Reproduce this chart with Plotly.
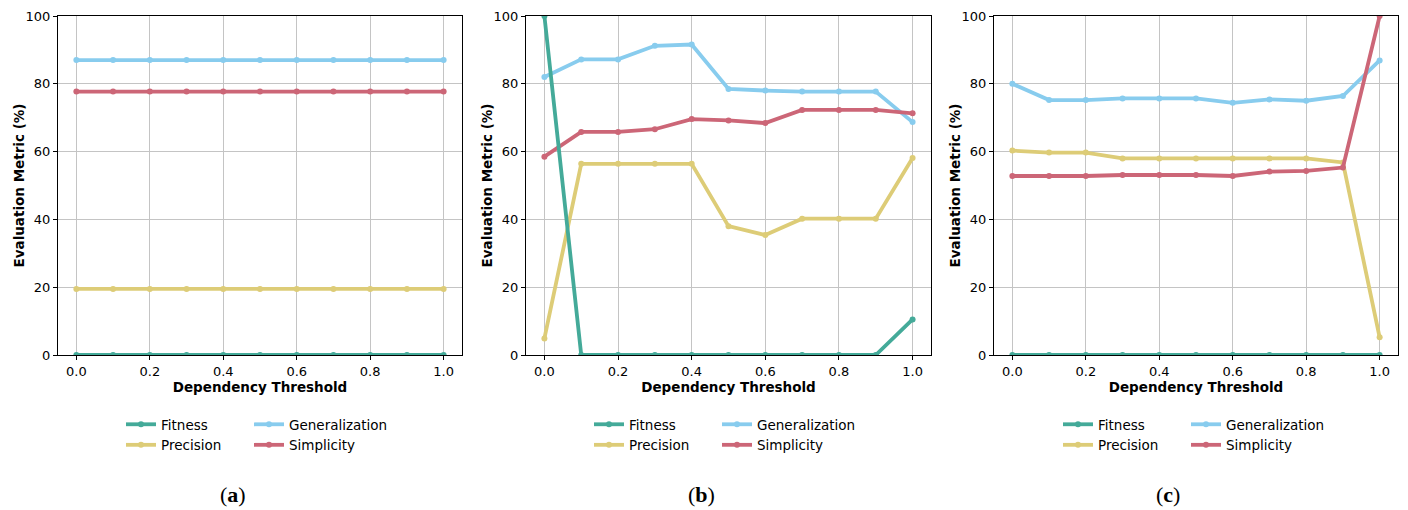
import plotly.graph_objects as go

thresholds = [0.0, 0.1, 0.2, 0.3, 0.4, 0.5, 0.6, 0.7, 0.8, 0.9, 1.0]
metrics = ["Fitness", "Generalization", "Precision", "Simplicity"]
colors = {"Fitness": "#44AA99", "Generalization": "#88CCEE",
          "Precision": "#DDCC77", "Simplicity": "#CC6677"}

# Panel (a)
a_fitness = [0, 0, 0, 0, 0, 0, 0, 0, 0, 0, 0]
a_generalization = [87.0] * 11
a_precision = [19.5] * 11
a_simplicity = [77.7] * 11

# Panel (b)
b_fitness = [100, 0, 0, 0, 0, 0, 0, 0, 0, 0, 10.5]
b_generalization = [82.0, 87.2, 87.2, 91.2, 91.6, 78.5, 78.0, 77.7, 77.7, 77.7, 68.7]
b_precision = [4.9, 56.4, 56.4, 56.4, 56.4, 38.0, 35.4, 40.2, 40.2, 40.2, 58.1]
b_simplicity = [58.5, 65.8, 65.8, 66.6, 69.6, 69.2, 68.4, 72.3, 72.3, 72.3, 71.3]

# Panel (c)
c_fitness = [0, 0, 0, 0, 0, 0, 0, 0, 0, 0, 0]
c_generalization = [80.0, 75.2, 75.2, 75.7, 75.7, 75.7, 74.4, 75.4, 75.0, 76.4, 86.9]
c_precision = [60.3, 59.7, 59.7, 58.0, 58.0, 58.0, 58.0, 58.0, 58.0, 56.8, 5.2]
c_simplicity = [52.8, 52.8, 52.8, 53.1, 53.1, 53.1, 52.8, 54.1, 54.3, 55.3, 100.0]

captions = ["a", "b", "c"]
x_title = "Dependency Threshold"
y_title = "Evaluation Metric (%)"
x_ticks = [0.0, 0.2, 0.4, 0.6, 0.8, 1.0]
y_ticks = [0, 20, 40, 60, 80, 100]

panels = [
    {"Fitness": a_fitness, "Generalization": a_generalization, "Precision": a_precision, "Simplicity": a_simplicity},
    {"Fitness": b_fitness, "Generalization": b_generalization, "Precision": b_precision, "Simplicity": b_simplicity},
    {"Fitness": c_fitness, "Generalization": c_generalization, "Precision": c_precision, "Simplicity": c_simplicity},
]

W, H = 1408, 510
x_domains = [(58, 462), (526, 931), (994, 1398)]
y_top, y_bot = 16, 355
caption_x = [233, 701, 1168]
legend_col1_x = [125, 593, 1062]
legend_col2_x = [253, 721, 1190]

FONT = "DejaVu Sans"
fig = go.Figure()

draw_order = ["Generalization", "Precision", "Simplicity", "Fitness"]
rank = {"Fitness": 1, "Generalization": 2, "Precision": 3, "Simplicity": 4}

for i, data in enumerate(panels):
    sfx = "" if i == 0 else str(i + 1)
    for m in draw_order:
        leg_idx = 2 * i + (1 if m in ("Fitness", "Precision") else 2)
        leg = "legend" if leg_idx == 1 else f"legend{leg_idx}"
        fig.add_trace(go.Scatter(
            x=thresholds, y=data[m], name=m, mode="lines+markers",
            line=dict(color=colors[m], width=3.8),
            marker=dict(color=colors[m], size=6),
            xaxis="x" + sfx, yaxis="y" + sfx,
            legend=leg, legendrank=rank[m], showlegend=True,
        ))

layout = dict(
    width=W, height=H,
    margin=dict(l=0, r=0, t=0, b=0),
    paper_bgcolor="white", plot_bgcolor="white",
    font=dict(family=FONT, color="black", size=12),
    annotations=[],
)

for i in range(3):
    sfx = "" if i == 0 else str(i + 1)
    x0, x1 = x_domains[i]
    layout["xaxis" + sfx] = dict(
        domain=[x0 / W, x1 / W], anchor="y" + sfx, automargin=False,
        range=[-0.05, 1.05], tickvals=x_ticks, tickformat=".1f",
        showgrid=True, gridcolor="#c4c4c4", gridwidth=1,
        showline=True, linecolor="black", linewidth=1, mirror=True,
        ticks="outside", ticklen=4, tickcolor="black",
        tickfont=dict(family=FONT, size=13),
        title=dict(text=f"<b>{x_title}</b>", font=dict(family=FONT, size=13.5), standoff=0),
        zeroline=False,
    )
    layout["yaxis" + sfx] = dict(
        domain=[1 - y_bot / H, 1 - y_top / H], anchor="x" + sfx, automargin=False,
        range=[0, 100], tickvals=y_ticks,
        showgrid=True, gridcolor="#c4c4c4", gridwidth=1,
        showline=True, linecolor="black", linewidth=1, mirror=True,
        ticks="outside", ticklen=4, tickcolor="black",
        tickfont=dict(family=FONT, size=13),
        zeroline=False,
    )
    layout["annotations"].append(dict(
        text=f"<b>{y_title}</b>", x=(x0 - 40) / W, y=1 - ((y_top + y_bot) / 2) / H,
        xref="paper", yref="paper", xanchor="center", yanchor="middle",
        textangle=-90, showarrow=False, font=dict(family=FONT, size=13.5, color="black"),
    ))
    for j, lx in enumerate([legend_col1_x[i], legend_col2_x[i]]):
        leg_idx = 2 * i + 1 + j
        key = "legend" if leg_idx == 1 else f"legend{leg_idx}"
        layout[key] = dict(
            x=(lx - 4) / W, y=1 - 409 / H, xanchor="left", yanchor="top",
            orientation="v", bgcolor="rgba(0,0,0,0)", borderwidth=0,
            font=dict(family=FONT, size=13.5, color="black"),
            itemwidth=30, tracegroupgap=0, traceorder="normal",
        )
    layout["annotations"].append(dict(
        text=f"(<b>{captions[i]}</b>)", x=caption_x[i] / W, y=1 - 494 / H,
        xref="paper", yref="paper", xanchor="center", yanchor="middle",
        showarrow=False, font=dict(family="Liberation Serif", size=22, color="black"),
    ))

fig.update_layout(**layout)
fig.write_html(
    "out.html",
    config={"displayModeBar": False},
    post_script="document.body.style.margin='0';document.body.style.overflow='hidden';",
)
